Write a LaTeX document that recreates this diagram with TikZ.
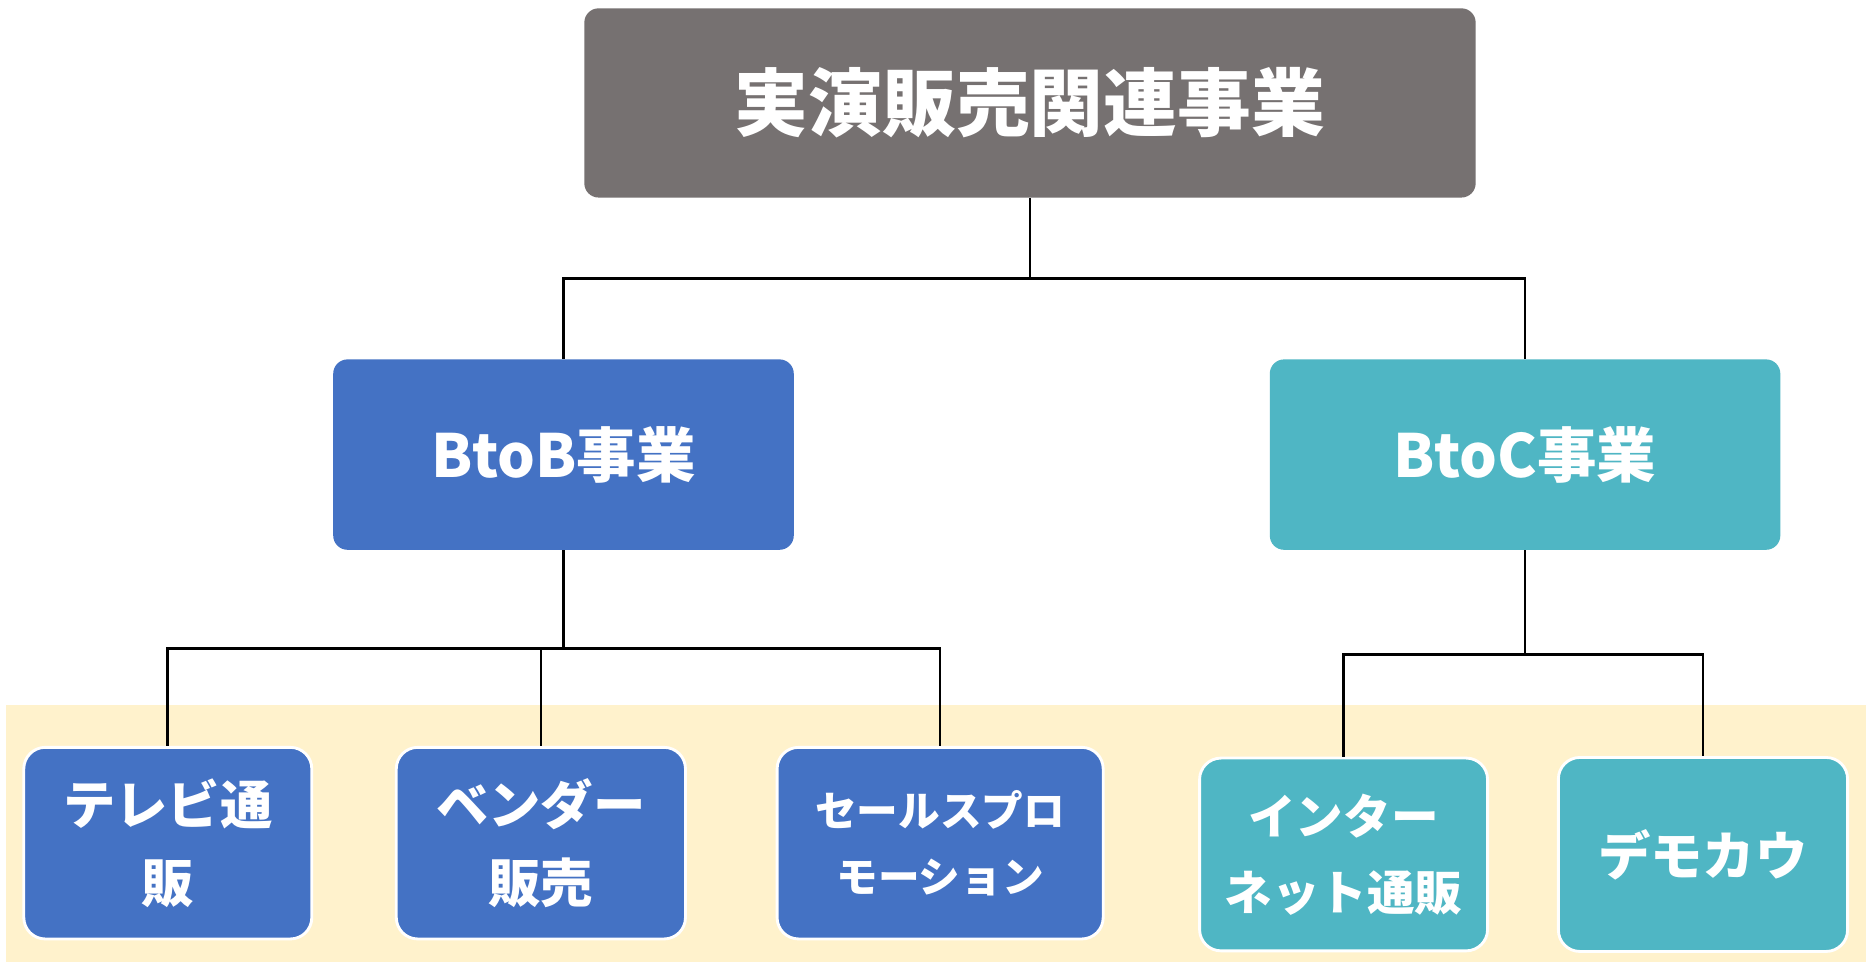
\documentclass[tikz,border=0pt]{standalone}
\usepackage{fontspec}
\setmainfont{Noto Sans CJK JP}
\definecolor{topgray}{HTML}{767171}
\definecolor{bblue}{HTML}{4472C4}
\definecolor{cteal}{HTML}{4FB6C4}
\definecolor{band}{HTML}{FFF2CC}
\tikzset{
  lvl/.style={rounded corners=6pt, inner sep=0pt, text=white, align=center},
  leaf/.style={rounded corners=9pt, draw=white, line width=1.2pt, inner sep=0pt, text=white, align=center},
  conn/.style={draw=black, line width=1.1pt}
}
\begin{document}
\begin{tikzpicture}[x=0.5pt,y=-0.5pt]
\fill[white] (0,0) rectangle (1568,808);
\useasboundingbox (0,0) rectangle (1568,808);
\fill[band] (5,592) rectangle (1568,808);

\node[lvl, fill=topgray, minimum width=374.5pt, minimum height=79.5pt, font=\bfseries\fontsize{31}{36}\selectfont] (top) at (865.5,86.5) {実演販売関連事業};
\node[lvl, fill=bblue, minimum width=193.5pt, minimum height=80pt, font=\bfseries\fontsize{25}{30}\selectfont] (btob) at (473.5,382) {BtoB事業};
\node[lvl, fill=cteal, minimum width=214.5pt, minimum height=80pt, font=\bfseries\fontsize{25}{30}\selectfont] (btoc) at (1281.5,382) {BtoC事業};

\node[leaf, fill=bblue, minimum width=121pt, minimum height=80.5pt, font=\bfseries\fontsize{22}{33}\selectfont] (tv) at (141,708.5) {テレビ通\\販};
\node[leaf, fill=bblue, minimum width=121.5pt, minimum height=80.5pt, font=\bfseries\fontsize{22}{33}\selectfont] (vd) at (454.5,708.5) {ベンダー\\販売};
\node[leaf, fill=bblue, minimum width=137pt, minimum height=80.5pt, font=\bfseries\fontsize{17.5}{28}\selectfont] (sp) at (790,708.5) {セールスプロ\\モーション};
\node[leaf, fill=cteal, minimum width=121pt, minimum height=81pt, font=\bfseries\fontsize{20}{32}\selectfont] (net) at (1129,718) {インター\\ネット通販};
\node[leaf, fill=cteal, minimum width=121.5pt, minimum height=81.5pt, font=\bfseries\fontsize{22}{33}\selectfont] (demo) at (1431,718) {デモカウ};

\coordinate (j1) at (865.5,234);
\coordinate (j2) at (473.5,545);
\coordinate (j3) at (1281.5,550);

\draw[conn] (top.south) -- (j1);
\draw[conn] (btob.north) |- (j1) -| (btoc.north);
\draw[conn] (btob.south) -- (j2);
\draw[conn] (tv.north) |- (j2) -| (sp.north);
\draw[conn] (vd.north) -- (vd.north |- j2);
\draw[conn] (btoc.south) -- (j3);
\draw[conn] (net.north) |- (j3) -| (demo.north);
\end{tikzpicture}
\end{document}
